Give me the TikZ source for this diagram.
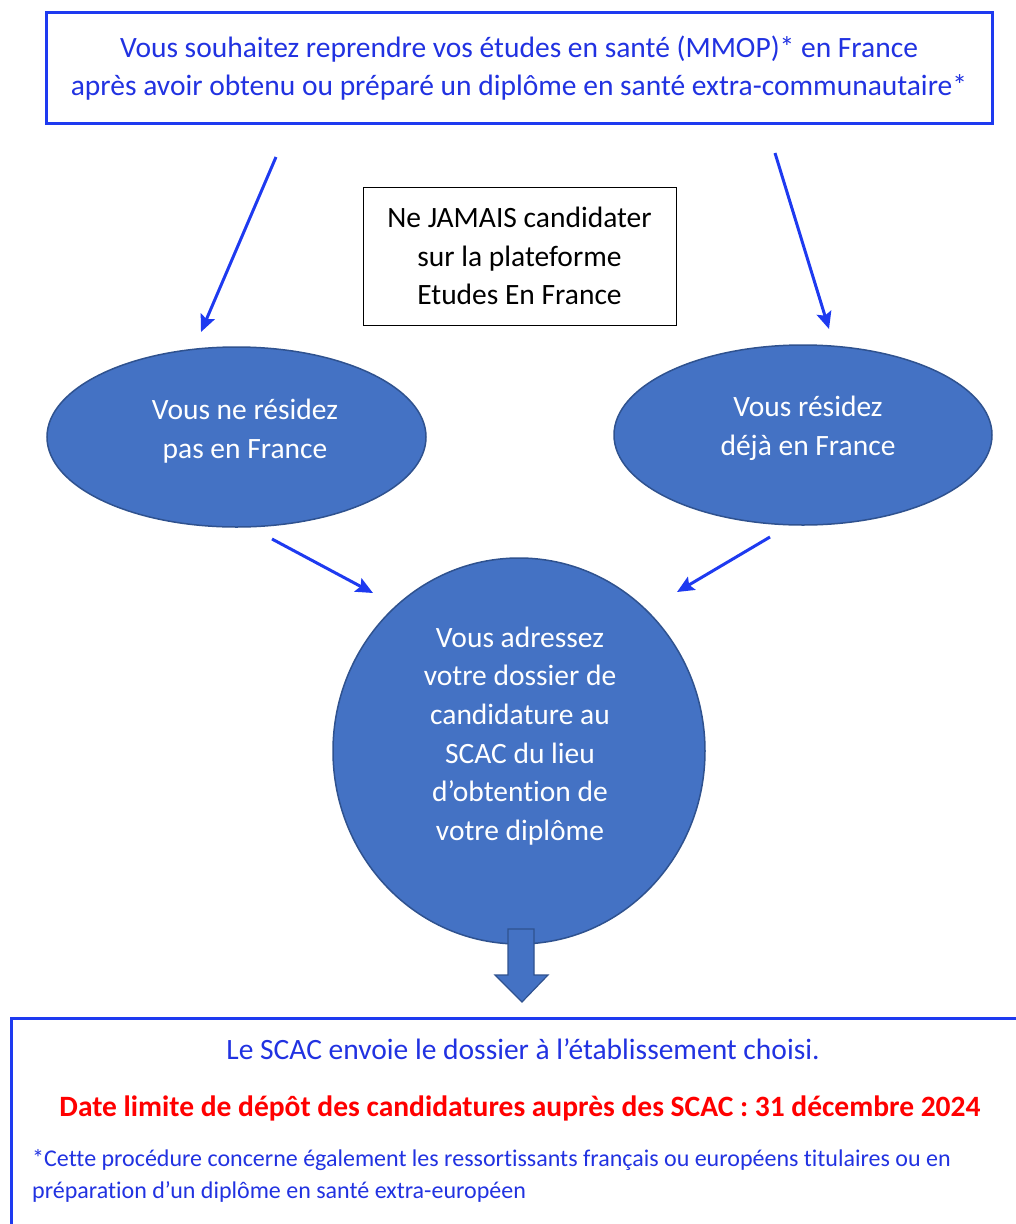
\documentclass[tikz,border=0pt]{standalone}
\usepackage{fontspec}
\setmainfont{Carlito}[Ligatures=NoCommon]
\usetikzlibrary{arrows.meta,shapes.geometric,positioning}

\definecolor{lineblue}{RGB}{30,58,240}
\definecolor{txtblue}{RGB}{33,50,225}
\definecolor{fillblue}{RGB}{68,114,196}
\definecolor{edgeblue}{RGB}{47,82,143}
\definecolor{datered}{RGB}{255,0,0}

\tikzset{
  bigtext/.style={font=\fontsize{29.5}{38.6}\selectfont, align=center},
  bluebox/.style={draw=lineblue, line width=3pt, rectangle, text=txtblue},
  warnbox/.style={draw=black, line width=0.8pt, rectangle, bigtext},
  blob/.style={ellipse, draw=edgeblue, line width=1.5pt, fill=fillblue, inner sep=0pt},
  blobtext/.style={bigtext, text=white},
  flow/.style={->, draw=lineblue, line width=3pt},
}

\begin{document}
\begin{tikzpicture}[x=1pt,y=-1pt,>={Stealth[length=17pt,width=15pt,inset=3pt]}]
    \useasboundingbox (0,0) rectangle (1016,1224);

    \node[bluebox, bigtext, minimum width=946, minimum height=111] (start) at (519,68)
      {Vous souhaitez reprendre vos études en santé (MMOP)* en France\\après avoir obtenu ou préparé un diplôme en santé extra-communautaire*};
    \node[warnbox, minimum width=313, minimum height=138] (jamais) at (519.5,256)
      {Ne JAMAIS candidater\\sur la plateforme\\Etudes En France};

    \node[blob, minimum width=379, minimum height=180] (horsfr) at (236.5,437) {};
    \node[blobtext] (horsfrtxt) at (245,431) {Vous ne résidez\\pas en France};
    \node[blob, minimum width=378, minimum height=180] (enfr) at (803,435) {};
    \node[blobtext] (enfrtxt) at (808,428) {Vous résidez\\déjà en France};
    \node[blob, minimum width=372, minimum height=386] (scac) at (519,751) {};
    \node[blobtext] (scactxt) at (520,736)
      {Vous adressez\\votre dossier de\\candidature au\\SCAC du lieu\\d’obtention de\\votre diplôme};

    % free ends of the thin arrows
    \coordinate (l1) at (276,157);
    \coordinate (l2) at (201,332);
    \coordinate (r1) at (775,153);
    \coordinate (r2) at (829,329);
    \coordinate (l3) at (272,539);
    \coordinate (l4) at (373,593);
    \coordinate (r3) at (770,537);
    \coordinate (r4) at (677,592);

    \path
      (l1) edge[flow] (l2)
      (r1) edge[flow] (r2)
      (l3) edge[flow] (l4)
      (r3) edge[flow] (r4);

    % big down arrow
    \filldraw[fill=fillblue, draw=edgeblue, line width=1.2pt]
      (508,929) -- (534,929) -- (534,975) -- (548,975) -- (522,1002)
      -- (495,975) -- (508,975) -- cycle;

    \node[bluebox, minimum width=1030, minimum height=230, anchor=north west] (depot) at (10,1017) {};
    \node[bigtext, text=txtblue] (envoi) at (523,1049)
      {Le SCAC envoie le dossier à l’établissement choisi.};
    \node[bigtext, text=datered, font=\bfseries\fontsize{29.5}{38.6}\selectfont] (date) at (520,1108)
      {Date limite de dépôt des candidatures auprès des SCAC : 31 décembre 2024};
    \node[text=txtblue, align=left, font=\fontsize{24}{32}\selectfont, anchor=west, inner sep=0pt] (note) at (32,1176)
      {*Cette procédure concerne également les ressortissants français ou européens titulaires ou en\\préparation d’un diplôme en santé extra-européen};
\end{tikzpicture}
\end{document}
